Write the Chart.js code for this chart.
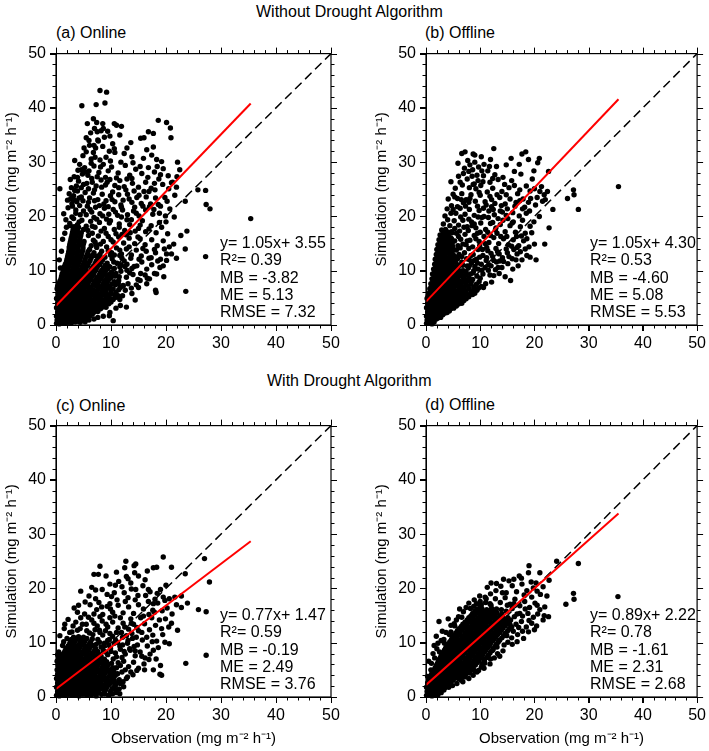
<!DOCTYPE html>
<html>
<head>
<meta charset="utf-8">
<script src="https://cdn.jsdelivr.net/npm/chart.js@4.4.1/dist/chart.umd.min.js"></script>
<style>
  body { margin: 0; background: #fff; width: 709px; height: 751px; position: relative; overflow: hidden;
         font-family: "Liberation Sans", Arial, Helvetica, sans-serif; color: #000; }
  .hdr { position: absolute; font-size: 16px; line-height: 18px; white-space: nowrap; }
  canvas { position: absolute; }
</style>
</head>
<body>
<div class="hdr" style="left:256px; top:3px">Without Drought Algorithm</div>
<div class="hdr" style="left:267px; top:372px">With Drought Algorithm</div>
<div class="hdr" style="left:56px; top:24px">(a) Online</div>
<div class="hdr" style="left:425px; top:24px">(b) Offline</div>
<div class="hdr" style="left:56px; top:397px">(c) Online</div>
<div class="hdr" style="left:425px; top:396px">(d) Offline</div>

<canvas id="panelA" width="345" height="325" style="left:0px; top:40px"></canvas>
<canvas id="panelB" width="339" height="325" style="left:370px; top:40px"></canvas>
<canvas id="panelC" width="345" height="339" style="left:0px; top:412px"></canvas>
<canvas id="panelD" width="339" height="339" style="left:370px; top:412px"></canvas>

<script>
// axis range and tick spacing (mg m-2 h-1)
const axisRange = [0, 50];
const majorStep = 10;
const minorStep = 2;

// 1:1 reference line
const oneToOne = [[0, 0], [50, 50]];

// regression lines, end points
const fitA = [[0, 3.55], [35.4, 40.8]];
const fitB = [[0, 4.30], [35.5, 41.6]];
const fitC = [[0, 1.47], [35.4, 28.7]];
const fitD = [[0, 2.22], [35.5, 33.8]];

// statistics boxes
const statsA = ['y= 1.05x+ 3.55', 'R\u00b2= 0.39', 'MB = -3.82', 'ME = 5.13', 'RMSE = 7.32'];
const statsB = ['y= 1.05x+ 4.30', 'R\u00b2= 0.53', 'MB = -4.60', 'ME = 5.08', 'RMSE = 5.53'];
const statsC = ['y= 0.77x+ 1.47', 'R\u00b2= 0.59', 'MB = -0.19', 'ME = 2.49', 'RMSE = 3.76'];
const statsD = ['y= 0.89x+ 2.22', 'R\u00b2= 0.78', 'MB = -1.61', 'ME = 2.31', 'RMSE = 2.68'];

// (a) online, without drought algorithm: [observation, simulation]
const pointsA = [
  [0.1,0.3],[0.6,0.2],[1.1,0.4],[1.6,0.3],[2.2,0.5],[2.8,0.4],[3.5,0.6],
  [0.2,0.9],[0.7,1.0],[1.3,0.8],[1.9,1.1],[2.5,0.9],[3.1,1.2],[3.8,1.0],[4.5,1.3],[5.2,1.2],
  [0.1,1.6],[0.6,1.7],[1.2,1.5],[1.8,1.8],[2.4,1.6],[3.0,1.9],[3.7,1.7],[4.4,2.0],[5.1,1.8],[5.9,2.1],[6.6,2.0],
  [0.3,2.4],[0.9,2.5],[1.5,2.3],[2.1,2.6],[2.8,2.4],[3.5,2.7],[4.2,2.5],[4.9,2.8],[5.7,2.6],[6.5,2.9],[7.3,2.7],[8.1,3.0],
  [0.1,3.2],[0.7,3.3],[1.3,3.1],[2.0,3.4],[2.7,3.2],[3.4,3.5],[4.1,3.3],[4.9,3.6],[5.6,3.4],[6.4,3.7],[7.2,3.5],[8.0,3.8],[8.9,3.6],[9.6,3.9],
  [0.3,4.0],[0.9,4.1],[1.6,3.9],[2.3,4.2],[3.0,4.0],[3.8,4.3],[4.6,4.1],[5.4,4.4],[6.2,4.2],[7.0,4.5],[7.8,4.3],[8.7,4.6],[9.5,4.4],[10.4,4.7],
  [0.1,4.9],[0.8,5.0],[1.5,4.8],[2.2,5.1],[3.0,4.9],[3.7,5.2],[4.5,5.0],[5.3,5.3],[6.1,5.1],[7.0,5.4],[7.8,5.2],[8.6,5.5],[9.5,5.3],[10.6,5.6],[11.3,5.4],
  [0.4,5.8],[1.1,5.9],[1.8,5.7],[2.6,6.0],[3.3,5.8],[4.1,6.1],[4.9,5.9],[5.8,6.2],[6.6,6.0],[7.4,6.3],[8.3,6.1],[9.1,6.4],[10.0,6.2],[11.4,6.5],
  [0.2,6.7],[0.9,6.8],[1.6,6.6],[2.4,6.9],[3.1,6.7],[3.9,7.0],[4.7,6.8],[5.5,7.1],[6.4,6.9],[7.3,7.2],[8.1,7.0],[9.0,7.3],[9.8,7.1],[10.8,7.4],[12.2,7.2],
  [0.5,7.6],[1.3,7.7],[2.0,7.5],[2.8,7.8],[3.6,7.6],[4.4,7.9],[5.2,7.7],[6.0,8.0],[6.9,7.8],[7.8,8.1],[8.7,7.9],[9.5,8.2],[10.6,8.0],
  [0.9,8.5],[1.7,8.6],[2.4,8.4],[3.2,8.7],[4.0,8.5],[4.8,8.8],[5.6,8.6],[6.5,8.9],[7.4,8.7],[8.4,9.0],[9.3,8.8],[10.3,9.1],[11.5,8.9],
  [1.1,9.4],[1.9,9.5],[2.7,9.3],[3.5,9.6],[4.3,9.4],[5.2,9.7],[6.1,9.5],[7.0,9.8],[8.0,9.6],[9.0,9.9],[10.1,9.7],
  [1.4,10.3],[2.2,10.4],[3.0,10.2],[3.8,10.5],[4.6,10.3],[5.5,10.6],[6.5,10.4],[7.5,10.7],[8.6,10.5],[9.6,10.8],
  [1.7,11.2],[2.5,11.3],[3.3,11.1],[4.1,11.4],[5.0,11.2],[6.0,11.5],[7.1,11.3],[8.2,11.6],[9.3,11.4],
  [2.0,12.1],[2.8,12.2],[3.6,12.0],[4.4,12.3],[5.3,12.1],[6.4,12.4],[7.6,12.2],[8.9,12.5],
  [2.2,13.0],[3.0,13.1],[3.8,12.9],[4.7,13.2],[5.7,13.0],[6.9,13.3],
  [2.4,13.9],[3.2,14.0],[4.0,13.8],[4.9,14.1],[6.1,13.9],
  [2.5,14.8],[3.3,14.9],[4.1,14.7],[5.0,15.0],
  [2.7,15.7],[3.5,15.8],[4.3,15.6],[2.9,16.6],[3.7,16.7],[4.5,16.5],[3.1,17.5],[3.9,17.6],
  [8.0,43.2],[9.2,42.9],[4.7,40.4],[7.3,40.6],[8.9,40.9],
  [5.7,37.1],[7.4,37.3],[8.5,37.1],[10.6,37.1],[11.0,36.8],[11.9,36.6],[18.6,37.7],[20.1,37.3],[20.8,36.3],
  [16.8,35.6],[17.7,35.3],[16.0,34.5],[15.4,34.4],[20.9,34.5],[7.0,36.2],[6.3,35.4],[8.2,35.8],[9.4,35.7],
  [5.5,34.5],[7.6,34.1],[8.8,34.6],[11.6,35.0],[13.6,33.6],[17.7,32.8],[6.1,33.1],[7.2,32.6],[8.5,32.9],
  [10.3,33.4],[4.9,31.2],[5.5,31.9],[6.8,31.8],[9.1,30.9],[11.8,30.0],[13.8,31.0],[15.9,30.7],[17.4,31.3],
  [18.3,30.5],[19.2,30.1],[12.4,31.6],[8.0,30.4],[3.4,30.3],[4.3,29.6],
  [5.2,29.0],[6.0,28.4],[6.9,29.3],[7.8,28.1],[8.6,29.6],[9.5,28.4],[10.1,29.1],[11.3,28.0],[12.6,29.4],
  [13.4,27.6],[14.5,28.7],[15.6,27.9],[16.8,29.0],[17.9,28.2],[18.7,26.9],[19.5,28.8],[20.4,27.5],[21.2,26.3],
  [22.1,30.0],[22.5,28.6],[22.0,27.3],[21.0,26.2],[3.3,27.3],[4.1,26.5],[4.8,27.8],[5.6,26.1],[6.5,27.0],
  [7.3,25.6],[8.2,26.7],[9.0,25.8],[9.8,26.8],[10.7,25.7],[11.6,26.6],[12.4,25.5],[13.9,26.1],[15.0,25.4],
  [16.3,26.3],[17.3,25.2],[19.4,25.9],[2.8,25.3],[0.7,25.1],
  [2.4,24.2],[3.2,23.8],[3.9,24.7],[4.6,23.6],[5.3,24.4],[6.1,23.4],[6.8,24.3],[7.6,23.1],[8.4,24.1],
  [9.1,22.9],[9.9,23.8],[10.7,22.7],[11.4,24.0],[12.2,23.0],[13.0,24.1],[13.8,22.6],[14.7,23.5],[15.5,22.4],
  [16.4,23.6],[17.2,22.3],[18.1,23.4],[19.0,21.9],[20.2,22.8],[21.6,23.9],[23.5,22.8],[25.8,24.9],[27.2,24.8],
  [27.3,22.2],[28.0,21.4],[2.2,21.6],[2.9,22.4],[3.6,21.2],[4.3,22.0],[5.0,21.0],[5.7,21.9],[6.5,20.8],
  [7.2,21.7],[8.0,20.5],[8.8,21.5],[9.6,20.4],[10.4,21.3],[11.2,20.2],[12.1,21.2],[13.0,20.3],[14.1,21.0],
  [15.1,20.1],[16.3,21.2],[17.6,20.4],[18.8,20.6],[19.9,20.1],[20.7,21.4],
  [1.8,19.4],[2.5,18.7],[3.2,19.6],[3.9,18.5],[4.7,19.3],[5.5,18.2],[6.3,19.1],[7.1,18.0],[7.9,18.9],
  [8.8,17.8],[9.7,18.8],[10.6,17.6],[11.5,18.6],[12.5,17.4],[13.4,18.5],[14.4,17.3],[15.3,18.4],[16.3,17.2],
  [17.3,18.3],[18.2,17.0],[19.2,18.0],[20.3,16.8],[22.7,16.5],[23.8,17.3],[35.4,19.6],[1.6,16.9],[5.9,16.5],
  [6.8,15.6],[7.7,16.4],[8.6,15.4],[9.5,16.3],[10.4,15.3],[11.4,16.2],[12.3,15.1],[13.3,16.0],[14.3,15.0],
  [15.3,15.9],[16.2,14.8],[17.4,15.7],[18.4,14.6],[19.5,15.5],[20.6,14.4],[21.4,14.9],
  [7.4,14.3],[8.3,13.6],[9.2,14.4],[10.1,13.3],[11.0,14.2],[11.9,13.1],[12.8,14.0],[13.7,12.9],[14.6,13.8],
  [15.5,12.7],[16.4,13.6],[17.3,12.4],[18.1,13.3],[19.0,12.1],[20.1,13.1],[21.0,13.1],[21.9,12.3],[23.5,14.0],
  [27.2,12.6],[10.2,12.2],[11.1,11.4],[12.0,12.3],[12.9,11.2],[13.8,10.4],[14.7,10.9],[15.6,11.6],[16.5,10.3],
  [17.4,11.1],[18.9,10.6],[20.1,11.9],[10.6,10.4],[11.8,9.9],
  [11.3,7.6],[12.8,8.8],[14.0,9.3],[15.3,8.2],[16.5,7.6],[18.3,9.4],[12.6,6.4],[13.8,5.8],[15.0,6.9],
  [18.1,6.4],[11.0,5.2],[12.8,3.3],[10.4,0.8],[18.2,6.0],[23.6,6.2],[17.0,8.5],[19.6,8.9],[14.4,4.6],
  [9.8,2.3],[11.7,3.6]
];
const extraA = [
  [0.35,0.6],[0.9,0.65],[1.4,0.55],[1.95,0.7],[2.5,0.6],[3.2,0.75],[4.0,0.7],[4.8,0.8],
  [0.4,1.3],[1.0,1.2],[1.6,1.35],[2.2,1.25],[2.8,1.4],[3.4,1.3],[4.1,1.45],[4.8,1.5],[5.6,1.5],[6.2,1.7],
  [0.35,2.0],[0.9,2.1],[1.5,1.95],[2.1,2.15],[2.7,2.0],[3.35,2.25],[4.0,2.1],[4.7,2.35],[5.4,2.2],[6.2,2.45],[6.9,2.35],[7.6,2.5],
  [0.5,2.8],[1.1,2.9],[1.7,2.75],[2.4,3.0],[3.1,2.85],[3.8,3.05],[4.5,2.9],[5.3,3.15],[6.0,3.0],[6.8,3.25],[7.6,3.1],[8.5,3.3],[9.1,3.25],
  [0.4,3.6],[1.0,3.7],[1.7,3.55],[2.4,3.8],[3.1,3.6],[3.8,3.85],[4.5,3.7],[5.3,3.95],[6.0,3.8],[6.8,4.05],[7.6,3.9],[8.4,4.15],[9.2,4.0],[10.0,4.25],
  [0.5,4.45],[1.2,4.55],[1.9,4.4],[2.6,4.65],[3.4,4.5],[4.2,4.75],[5.0,4.55],[5.8,4.8],[6.6,4.65],[7.4,4.9],[8.2,4.75],[9.1,5.0],[10.0,4.85],[10.9,5.1],
  [0.4,5.35],[1.1,5.45],[1.8,5.3],[2.6,5.55],[3.4,5.4],[4.1,5.6],[4.9,5.45],[5.7,5.7],[6.5,5.55],[7.4,5.8],[8.2,5.65],[9.0,5.9],[9.9,5.75],[10.9,6.0],
  [0.6,6.25],[1.3,6.35],[2.0,6.2],[2.8,6.45],[3.5,6.3],[4.3,6.5],[5.1,6.35],[6.0,6.6],[6.8,6.45],[7.7,6.7],[8.6,6.55],[9.5,6.8],[10.4,6.65],[11.7,6.9],
  [0.3,7.15],[1.1,7.25],[1.8,7.1],[2.6,7.35],[3.4,7.2],[4.2,7.4],[5.0,7.25],[5.8,7.5],[6.7,7.35],[7.6,7.6],[8.5,7.45],[9.3,7.7],[10.2,7.55],[11.3,7.8],
  [0.7,8.05],[1.5,8.15],[2.2,8.0],[3.0,8.25],[3.8,8.1],[4.6,8.3],[5.4,8.15],[6.3,8.4],[7.2,8.25],[8.1,8.5],[9.0,8.35],[9.9,8.6],
  [1.0,8.95],[1.8,9.05],[2.6,8.9],[3.4,9.15],[4.2,9.0],[5.0,9.2],[5.9,9.05],[6.8,9.3],[7.8,9.15],[8.8,9.4],[9.7,9.25],
  [1.3,9.85],[2.1,9.95],[2.9,9.8],[3.7,10.05],[4.5,9.9],[5.4,10.1],[6.3,9.95],[7.3,10.2],[8.3,10.05],[9.4,10.3],
  [1.5,10.75],[2.4,10.85],[3.2,10.7],[4.0,10.95],[4.8,10.8],[5.8,11.0],[6.8,10.85],[7.9,11.1],[8.9,10.95],
  [1.9,11.65],[2.7,11.75],[3.5,11.6],[4.3,11.85],[5.2,11.7],[6.2,11.9],[7.3,11.75],[8.5,12.0],
  [2.1,12.55],[2.9,12.65],[3.7,12.5],[4.6,12.75],[5.5,12.6],[6.6,12.8],[7.8,12.7],
  [2.3,13.45],[3.1,13.55],[3.9,13.4],[4.8,13.65],[5.8,13.5],[2.4,14.35],[3.2,14.45],[4.0,14.3],[4.9,14.55],
  [2.6,15.25],[3.4,15.35],[4.2,15.2],[5.1,15.4],[2.8,16.15],[3.6,16.25],[4.4,16.1],
  [3.0,17.05],[3.8,17.15],[4.6,17.0],[3.3,18.1],[4.1,18.0],[2.6,18.3],
  [5.9,12.8],[7.3,14.8],[9.9,12.9],[6.6,16.9],[8.2,17.3],[10.9,16.8],[12.8,16.6],[14.9,16.2],[4.4,20.3],
  [6.9,19.8],[9.2,19.5],[11.9,19.9],[13.7,19.4],[15.7,19.2],[3.4,23.0],[5.9,22.6],[8.7,22.3],[11.8,22.1],
  [14.3,21.7],[17.8,21.3],[4.6,25.3],[7.0,24.9],[10.3,24.5],[12.9,26.9],[16.9,24.6],[5.3,28.2],[9.0,27.2],
  [14.0,29.9],[18.4,29.2],[6.4,30.6],[10.7,31.8],[7.7,33.9],[9.7,32.0],[12.9,32.6],[16.5,32.3],[6.8,38.0],
  [4.0,28.5],[2.6,26.8],[3.7,25.6],[2.1,23.0],[1.4,20.5],[1.9,18.0],[1.2,15.8],[1.0,13.6],[0.6,12.0],
  [0.8,10.5],[11.6,13.8],[13.3,14.4],[15.8,14.1],[17.9,13.9],[19.7,14.0],[12.5,10.8],[13.4,9.6],[14.9,8.4],
  [16.2,9.2],[10.9,9.5],[11.6,10.7]
];
const cloudA = [
  [2.9,19.9],[3.6,20.6],[4.2,19.0],[5.0,17.6],[5.8,17.4],[6.6,18.2],[7.4,19.5],[3.0,21.9],[3.8,22.7],
  [4.9,22.9],[5.5,20.3],[6.2,21.3],[7.0,22.9],[7.9,22.0],[2.7,23.3],[3.4,24.8],[4.2,23.4],[5.0,25.9],
  [5.9,25.1],[6.6,26.3],[7.5,27.3],[8.3,25.4],[3.9,27.2],[4.6,28.6],[5.8,27.6],[6.4,29.8],[7.1,30.9],
  [8.1,29.1],[9.3,26.3],[5.1,32.6],[6.0,34.0],[6.9,33.1],[7.5,35.6],[8.6,36.2],[9.8,34.8],[10.6,32.5],
  [9.9,30.2],[11.0,27.1],[10.2,23.1],[9.5,21.8],[8.5,20.1],[9.9,19.2],[10.8,20.8],[11.9,21.7],[12.7,24.9],
  [11.4,25.3],[13.3,23.2],[14.2,24.7],[15.1,23.9],[13.8,27.0],[15.3,29.2],[16.7,27.2],[17.9,26.1],[16.0,24.6],
  [18.0,24.9],[19.0,27.7],[20.5,25.1],[21.9,25.4],[19.8,23.5],[18.6,22.2],[17.0,21.8],[15.8,21.9],[14.6,20.6],
  [12.9,19.4],[11.5,18.0],[13.5,17.0],[15.0,17.8],[16.9,17.7],[18.8,18.9],[20.0,19.0],[21.5,19.9],[12.0,16.7],
  [10.0,15.7],[9.1,16.9],[8.1,14.9],[7.1,15.3],[6.4,14.6],[7.0,12.8],[8.0,13.0],[9.5,13.7],[10.6,12.9],
  [11.6,12.8],[12.4,11.8],[13.6,12.3],[15.1,12.1],[16.9,12.3],[18.5,11.8],[19.5,10.9],[17.9,9.5],[16.6,8.6],
  [15.4,9.5],[14.2,10.8],[12.9,10.1],[11.8,11.1],[10.5,11.6],[9.8,10.7],[10.7,9.0],[11.4,8.2],[12.2,7.3],
  [13.1,7.6],[14.6,7.4],[13.7,6.8],[12.1,5.4],[11.6,4.7],[10.9,3.1],[9.7,1.7],[8.6,1.6],[7.6,1.4],
  [6.9,1.1],[6.0,0.9],[5.3,0.6],[4.4,0.5]
];

// (b) offline, without drought algorithm
const pointsB = [
  [0.1,0.3],[0.6,0.4],[1.1,0.2],[0.2,0.9],[0.7,1.0],[1.3,0.8],[1.9,1.1],
  [0.1,1.6],[0.6,1.7],[1.2,1.5],[1.8,1.8],[2.5,1.6],[3.1,1.9],
  [0.3,2.4],[0.9,2.5],[1.5,2.3],[2.1,2.6],[2.8,2.4],[3.5,2.7],[4.3,2.6],
  [0.1,3.2],[0.7,3.3],[1.3,3.1],[2.0,3.4],[2.7,3.2],[3.4,3.5],[4.1,3.3],[4.9,3.6],[5.6,3.5],
  [0.3,4.0],[0.9,4.1],[1.6,3.9],[2.3,4.2],[3.0,4.0],[3.8,4.3],[4.6,4.1],[5.4,4.4],[6.2,4.2],[7.0,4.5],
  [0.2,4.9],[0.8,5.0],[1.5,4.8],[2.2,5.1],[3.0,4.9],[3.7,5.2],[4.5,5.0],[5.3,5.3],[6.1,5.1],[7.0,5.4],[7.9,5.2],[8.6,5.6],
  [0.5,5.8],[1.1,5.9],[1.8,5.7],[2.6,6.0],[3.3,5.8],[4.1,6.1],[4.9,5.9],[5.8,6.2],[6.6,6.0],[7.4,6.3],[8.3,6.1],[9.4,6.4],
  [0.7,6.7],[1.4,6.8],[2.1,6.6],[2.9,6.9],[3.6,6.7],[4.4,7.0],[5.2,6.8],[6.0,7.1],[6.9,6.9],[7.8,7.2],[8.8,7.0],[10.2,7.1],
  [0.9,7.6],[1.6,7.7],[2.4,7.5],[3.1,7.8],[3.9,7.6],[4.7,7.9],[5.6,7.7],[6.4,8.0],[7.3,7.8],[8.4,8.1],
  [1.1,8.5],[1.8,8.6],[2.6,8.4],[3.3,8.7],[4.1,8.5],[4.9,8.8],[5.8,8.6],[6.8,8.9],[7.9,8.7],
  [1.2,9.4],[2.0,9.5],[2.8,9.3],[3.5,9.6],[4.3,9.4],[5.1,9.7],[6.1,9.5],
  [1.4,10.3],[2.2,10.4],[2.9,10.2],[3.7,10.5],[4.5,10.3],[5.4,10.6],
  [1.6,11.2],[2.3,11.3],[3.1,11.1],[3.8,11.4],[4.6,11.2],[5.5,11.5],
  [1.7,12.1],[2.5,12.2],[3.2,12.0],[4.0,12.3],[4.8,12.1],
  [1.9,13.0],[2.6,13.1],[3.4,12.9],[4.2,13.2],[5.0,13.0],
  [2.0,13.9],[2.8,14.0],[3.5,13.8],[4.3,14.1],[5.1,13.9],
  [2.2,14.8],[2.9,14.9],[3.7,14.7],[4.5,15.0],[2.4,15.7],[3.1,15.8],[3.9,15.6],[4.7,15.9],
  [2.6,16.6],[3.3,16.7],[4.1,16.5],[2.9,17.5],[3.6,17.6],
  [3.2,18.6],[4.0,19.4],[4.4,18.3],[3.5,20.1],[4.6,20.6],
  [7.2,31.9],[6.6,31.6],[12.5,32.5],[18.4,31.9],[17.7,31.5],[9.0,31.3],[10.2,31.0],[20.9,30.7],[20.6,29.9],
  [15.7,30.7],[14.8,29.5],[13.0,29.2],[9.0,30.0],[8.1,29.5],[22.6,28.3],[4.6,26.4],[7.1,28.9],[8.6,28.6],
  [9.7,29.1],[11.4,28.4],[16.3,28.3],[17.5,27.8],[19.9,28.4],[6.0,27.4],[7.6,26.9],[8.5,27.4],[9.6,26.6],
  [10.6,27.5],[11.8,26.3],[13.3,26.8],[14.5,25.9],[15.8,26.6],[5.4,25.2],[6.7,25.8],[8.0,25.3],[9.2,25.1],
  [10.1,25.7],[12.3,25.2],[18.5,25.6],[19.2,24.7],[20.0,25.1],[21.0,24.6],[22.4,24.6],[21.8,24.0],
  [27.2,24.9],[27.3,24.0],[26.1,23.3],[28.1,21.3],[23.4,21.3],[35.5,25.5],[4.1,23.2],[5.0,24.1],[5.8,23.3],
  [6.6,24.2],[7.4,23.1],[8.3,24.0],[9.1,22.8],[10.0,23.9],[10.9,22.7],[11.8,23.7],[12.7,22.4],[13.6,23.5],
  [14.6,22.3],[15.5,23.2],[16.4,21.9],[17.3,22.9],[18.2,21.7],[19.3,23.3],[20.2,22.1],[21.5,22.8],[20.9,20.0],
  [3.9,21.4],[4.7,22.0],[5.5,20.6],[6.3,21.5],[7.2,20.4],[8.0,21.3],[8.9,20.2],[9.8,21.1],[10.7,20.0],
  [11.6,21.0],[12.6,20.3],[13.7,21.0],[14.8,20.2],[16.0,20.7],[17.2,20.1],[18.5,20.6],
  [5.2,19.2],[6.0,18.4],[6.8,19.3],[7.6,18.1],[8.4,19.0],[9.2,17.9],[10.1,18.8],[11.0,17.6],[11.9,18.7],
  [12.8,17.5],[13.7,18.5],[14.6,17.2],[15.5,18.3],[16.5,17.1],[17.4,18.1],[18.3,16.9],[19.2,18.2],[22.7,17.9],
  [5.6,16.9],[6.4,15.8],[7.2,16.7],[8.1,15.6],[8.9,16.5],[9.8,15.4],[10.7,16.3],[11.6,15.2],[12.5,16.1],
  [13.4,15.0],[14.3,15.9],[15.2,14.8],[16.1,15.7],[17.1,14.6],[18.0,15.5],[19.0,14.4],[20.0,14.9],[21.9,14.9],
  [6.3,14.2],[7.1,13.3],[7.9,14.1],[8.7,13.0],[9.6,13.9],[10.5,12.8],[11.4,13.7],[12.3,12.6],[13.2,13.5],
  [14.1,12.4],[15.0,13.3],[15.9,12.2],[16.8,13.1],[17.7,12.0],[18.6,12.8],[19.2,12.5],[20.3,12.0],[6.6,11.6],
  [7.5,12.2],[8.4,11.4],[9.3,12.1],[10.2,11.2],[11.1,11.9],[12.0,10.9],[13.0,11.6],[14.0,10.6],[15.1,11.3],
  [16.0,10.3],[17.0,10.9],[6.9,10.0],[7.8,10.5],[8.7,9.6],[9.6,10.3],[10.5,9.4],[11.5,10.1],[12.5,9.1],
  [13.5,9.5],[14.6,8.9],[15.6,8.2],[8.6,8.4],[9.8,8.0],[11.0,7.6],[12.1,7.9],[10.6,6.9]
];
const extraB = [
  [0.35,0.6],[0.9,0.65],[1.5,0.55],[0.4,1.3],[1.0,1.2],[1.6,1.35],[2.2,1.3],[2.7,1.4],
  [0.35,2.0],[0.9,2.1],[1.5,1.95],[2.1,2.15],[2.8,2.0],[3.5,2.2],[3.9,2.3],
  [0.5,2.8],[1.1,2.9],[1.7,2.75],[2.4,3.0],[3.1,2.85],[3.8,3.05],[4.5,2.95],[5.1,3.1],
  [0.4,3.6],[1.0,3.7],[1.7,3.55],[2.4,3.8],[3.1,3.6],[3.8,3.85],[4.5,3.7],[5.3,3.95],[6.0,3.85],[6.6,4.0],
  [0.5,4.45],[1.2,4.55],[1.9,4.4],[2.6,4.65],[3.4,4.5],[4.2,4.75],[5.0,4.55],[5.8,4.8],[6.6,4.7],[7.4,4.85],
  [0.4,5.35],[1.1,5.45],[1.8,5.3],[2.6,5.55],[3.4,5.4],[4.1,5.6],[4.9,5.45],[5.7,5.7],[6.5,5.55],[7.4,5.8],[8.2,5.7],[9.0,5.85],
  [0.8,6.25],[1.5,6.35],[2.2,6.2],[2.9,6.45],[3.7,6.3],[4.5,6.5],[5.3,6.35],[6.2,6.6],[7.0,6.45],[7.9,6.7],[8.8,6.55],[9.7,6.8],
  [1.0,7.15],[1.8,7.25],[2.5,7.1],[3.3,7.35],[4.0,7.2],[4.8,7.4],[5.6,7.25],[6.5,7.5],[7.4,7.35],[8.3,7.6],[9.3,7.5],
  [1.3,8.05],[2.0,8.15],[2.8,8.0],[3.6,8.25],[4.4,8.1],[5.2,8.3],[6.1,8.15],[7.0,8.4],[7.8,8.3],
  [1.5,8.95],[2.3,9.05],[3.0,8.9],[3.8,9.15],[4.6,9.0],[5.5,9.2],[6.4,9.05],[7.3,9.3],
  [1.6,9.85],[2.4,9.95],[3.2,9.8],[4.0,10.05],[4.8,9.9],[5.7,10.1],[6.6,9.95],
  [1.8,10.75],[2.6,10.85],[3.4,10.7],[4.2,10.95],[5.0,10.8],[5.9,11.0],
  [2.0,11.65],[2.8,11.75],[3.5,11.6],[4.3,11.85],[5.1,11.7],[2.1,12.55],[2.9,12.65],[3.7,12.5],[4.5,12.75],[5.4,12.6],
  [2.3,13.45],[3.1,13.55],[3.9,13.4],[4.7,13.65],[2.5,14.35],[3.3,14.45],[4.1,14.3],[4.9,14.55],
  [2.7,15.25],[3.5,15.35],[4.3,15.2],[5.0,15.4],[2.9,16.15],[3.7,16.25],[4.5,16.1],[3.2,17.05],[4.0,17.15],[4.8,17.0],
  [5.9,10.5],[6.6,12.6],[7.2,9.1],[8.0,10.9],[8.9,11.9],[9.4,9.0],[10.9,10.6],[7.4,14.8],[8.3,12.8],
  [9.9,14.6],[11.2,14.3],[12.9,14.1],[6.0,16.3],[7.8,17.4],[9.5,16.9],[11.4,17.1],[13.1,16.9],[14.9,16.3],
  [16.7,16.3],[6.4,19.9],[8.5,18.3],[10.3,19.8],[12.3,18.9],[14.2,19.3],[16.1,19.0],[5.0,21.3],[6.9,22.5],
  [9.5,21.9],[12.1,21.8],[15.0,21.4],[17.8,21.4],[5.3,23.6],[7.9,22.6],[11.3,24.5],[14.0,24.6],[16.9,24.2],
  [6.3,26.3],[8.9,26.0],[12.7,27.7],[7.7,30.3],[10.7,29.6],[8.7,31.5],[11.9,30.5],[5.9,29.8],[16.6,22.6],
  [18.9,22.6],[13.6,11.8],[15.3,12.6],[16.8,14.3],[18.3,14.0],[12.8,10.2],[10.0,8.6],[11.8,9.2]
];
const cloudB = [
  [5.4,8.0],[6.0,9.9],[6.8,11.0],[7.4,9.8],[8.2,9.4],[7.0,8.6],[8.0,12.0],[9.0,10.8],[9.9,12.5],
  [10.4,13.9],[11.2,12.4],[12.0,13.2],[6.1,13.0],[5.9,14.6],[6.8,14.9],[7.6,15.5],[8.6,14.4],[9.2,15.9],
  [10.0,17.1],[10.9,15.0],[11.9,16.5],[12.9,17.9],[13.8,16.3],[14.8,14.0],[15.8,14.5],[16.6,12.0],[17.6,16.4],
  [5.3,17.8],[6.2,17.3],[7.0,18.0],[7.9,19.5],[8.9,18.6],[9.6,19.9],[10.6,21.5],[11.5,19.8],[12.4,21.3],
  [13.3,19.6],[14.1,20.8],[15.1,19.6],[15.9,18.8],[5.8,21.8],[6.5,23.1],[7.3,21.9],[8.1,23.3],[8.7,25.9],
  [9.8,24.4],[10.5,26.4],[11.1,22.1],[12.1,23.1],[13.1,24.0],[13.9,22.0],[14.8,24.0],[15.3,25.3],[16.3,25.7],
  [17.3,24.9],[17.9,23.2],[19.1,21.0],[19.9,19.0],[6.9,27.9],[7.9,28.3],[9.4,27.6],[10.3,28.4],[11.7,29.2],
  [12.3,27.0],[14.2,27.2],[17.2,29.6],[18.9,30.5],[19.6,26.9],[21.3,25.5],[20.5,23.5],[22.0,23.1],[4.7,17.2],
  [5.3,15.5],[5.6,13.8],[5.8,12.2],[6.2,11.0],[6.4,9.5],[7.6,10.9],[8.8,10.0],[9.5,11.4],[10.3,10.1],
  [11.6,11.1],[12.5,11.9],[13.3,10.6],[14.3,11.7],[13.5,13.1],[16.2,13.9],[17.4,13.5],[18.6,15.9],[19.5,17.0],
  [17.8,19.3]
];

// (c) online, with drought algorithm
const pointsC = [
  [0.1,0.3],[0.6,0.2],[1.1,0.4],[1.7,0.3],[2.3,0.5],[2.9,0.3],[3.5,0.4],[4.2,0.2],[4.9,0.5],[5.6,0.3],[6.4,0.4],[7.3,0.2],[8.3,0.5],[9.6,0.3],
  [0.3,1.0],[0.9,1.1],[1.5,0.9],[2.1,1.2],[2.7,1.0],[3.3,1.1],[4.0,0.9],[4.7,1.2],[5.4,1.0],[6.1,1.1],[6.9,0.9],[7.8,1.2],[8.8,1.0],[10.0,1.1],
  [0.1,1.8],[0.7,1.9],[1.3,1.7],[1.9,2.0],[2.5,1.8],[3.1,1.9],[3.8,1.7],[4.5,2.0],[5.2,1.8],[5.9,1.9],[6.7,1.7],[7.5,2.0],[8.4,1.8],[9.3,1.9],[10.5,1.7],
  [0.3,2.6],[0.9,2.7],[1.6,2.5],[2.2,2.8],[2.9,2.6],[3.6,2.7],[4.3,2.5],[5.0,2.8],[5.8,2.6],[6.6,2.7],[7.4,2.5],[8.2,2.8],[9.1,2.6],[10.1,2.7],[11.0,2.5],
  [0.1,3.4],[0.8,3.5],[1.4,3.3],[2.1,3.6],[2.8,3.4],[3.5,3.5],[4.2,3.3],[5.0,3.6],[5.8,3.4],[6.6,3.5],[7.4,3.3],[8.3,3.6],[9.2,3.4],[10.3,3.5],
  [0.3,4.2],[1.0,4.3],[1.7,4.1],[2.4,4.4],[3.1,4.2],[3.9,4.3],[4.7,4.1],[5.5,4.4],[6.3,4.2],[7.1,4.3],[8.0,4.1],[8.9,4.4],[9.9,4.2],[11.2,4.3],
  [0.2,5.0],[0.9,5.1],[1.6,4.9],[2.3,5.2],[3.1,5.0],[3.8,5.1],[4.6,4.9],[5.4,5.2],[6.2,5.0],[7.1,5.1],[8.0,4.9],[8.9,5.2],[9.8,5.0],
  [0.4,5.8],[1.1,5.9],[1.9,5.7],[2.6,6.0],[3.4,5.8],[4.2,5.9],[5.0,5.7],[5.9,6.0],[6.7,5.8],[7.6,5.9],[8.5,5.7],[9.5,6.0],
  [0.2,6.6],[1.0,6.7],[1.7,6.5],[2.5,6.8],[3.3,6.6],[4.1,6.7],[4.9,6.5],[5.7,6.8],[6.6,6.6],[7.5,6.7],[8.4,6.5],
  [0.5,7.4],[1.3,7.5],[2.1,7.3],[2.9,7.6],[3.7,7.4],[4.5,7.5],[5.4,7.3],[6.3,7.6],[7.2,7.4],[8.2,7.5],
  [1.5,8.2],[2.3,8.3],[3.1,8.1],[3.9,8.4],[4.8,8.2],[5.7,8.3],[6.6,8.1],[7.6,8.4],
  [1.9,9.0],[2.7,9.1],[3.5,8.9],[4.4,9.2],[5.3,9.0],[6.2,9.1],[7.2,8.9],
  [2.5,9.8],[3.3,9.9],[4.2,9.7],[5.1,10.0],[6.1,9.8],[2.8,10.6],[3.7,10.7],[4.6,10.5],[5.6,10.8],
  [19.5,25.8],[12.7,25.0],[14.5,24.5],[14.2,24.2],[8.0,24.1],[17.7,23.8],[18.3,23.9],[21.0,23.9],[23.5,22.7],
  [27.0,25.5],[27.9,21.2],[6.9,22.6],[7.7,22.6],[11.0,23.0],[12.8,22.2],[15.0,22.3],[16.2,21.6],[13.6,21.0],
  [9.8,20.8],[11.4,21.3],[4.5,19.5],[6.5,20.2],[8.4,19.8],[10.6,19.2],[12.0,20.3],[14.5,19.8],[15.8,20.5],
  [17.1,19.4],[18.4,19.1],[20.0,20.6],[21.6,18.4],[19.5,18.4],[22.8,18.6],[10.1,18.5],[13.1,18.3],[7.2,18.1],
  [3.3,16.4],[5.2,15.3],[6.2,17.0],[7.4,16.1],[8.5,15.2],[9.3,16.7],[10.3,15.6],[11.3,16.9],[12.2,15.5],
  [13.2,16.6],[14.1,15.4],[15.0,17.0],[15.9,16.2],[16.8,17.6],[17.6,16.0],[18.5,17.3],[19.3,15.9],[20.2,16.4],
  [21.1,15.3],[22.8,16.5],[23.9,17.3],[25.9,16.1],[27.3,15.7],[2.2,14.3],[3.6,13.8],[4.5,14.6],[5.5,13.4],
  [6.5,14.2],[7.5,13.1],[8.4,14.0],[9.4,12.9],[10.3,13.8],[11.3,12.7],[12.2,13.6],[13.2,12.5],[14.1,13.4],
  [15.0,12.2],[16.1,13.5],[17.0,12.4],[18.1,13.2],[19.2,12.6],[20.5,12.9],[22.1,12.3],[1.5,12.6],[2.5,11.9],
  [0.7,11.3],
  [6.7,11.5],[7.6,10.6],[8.5,11.4],[9.4,10.4],[10.3,11.2],[11.2,10.1],[12.1,11.0],[13.0,9.9],[13.9,10.8],
  [14.8,9.6],[15.7,10.5],[16.6,9.4],[17.5,10.2],[18.6,9.1],[19.8,10.1],[20.6,9.8],[7.3,9.7],[8.2,9.2],
  [9.0,8.3],[9.9,9.0],[10.8,8.1],[11.7,8.8],[12.6,7.9],[13.5,8.6],[14.4,7.6],[15.3,8.3],[16.2,7.2],
  [17.1,7.9],[18.2,7.0],[19.0,5.8],[10.4,7.0],[11.3,6.3],[12.3,6.6],[13.2,5.6],[14.1,6.4],[15.0,5.3],
  [16.0,6.1],[17.7,5.0],[18.9,4.2],[19.2,4.0],[11.0,5.4],[12.0,4.6],[13.0,3.7],[14.0,4.1],[12.2,2.8],
  [11.5,1.5],[11.0,0.8],[9.6,0.3],[27.3,7.7],[23.6,6.2]
];
const extraC = [
  [0.35,0.65],[0.9,0.7],[1.4,0.6],[2.0,0.75],[2.6,0.65],[3.2,0.7],[3.8,0.6],[4.5,0.75],[5.2,0.65],[6.0,0.7],[6.8,0.6],[7.7,0.75],[8.8,0.65],[10.3,0.6],
  [0.6,1.4],[1.2,1.5],[1.8,1.35],[2.4,1.55],[3.0,1.4],[3.6,1.5],[4.3,1.35],[5.0,1.55],[5.7,1.4],[6.5,1.5],[7.3,1.35],[8.2,1.55],[9.1,1.4],[10.2,1.5],[11.0,1.3],
  [0.4,2.2],[1.0,2.3],[1.6,2.15],[2.2,2.35],[2.8,2.2],[3.4,2.3],[4.1,2.15],[4.8,2.35],[5.5,2.2],[6.3,2.3],[7.1,2.15],[7.9,2.35],[8.8,2.2],[9.7,2.3],[10.8,2.1],
  [0.6,3.0],[1.2,3.1],[1.9,2.95],[2.5,3.15],[3.2,3.0],[3.9,3.1],[4.6,2.95],[5.4,3.15],[6.2,3.0],[7.0,3.1],[7.8,2.95],[8.7,3.15],[9.6,3.0],[10.6,3.1],[11.5,3.2],
  [0.4,3.8],[1.1,3.9],[1.8,3.75],[2.4,3.95],[3.2,3.8],[3.9,3.9],[4.6,3.75],[5.4,3.95],[6.2,3.8],[7.0,3.9],[7.8,3.75],[8.7,3.95],[9.6,3.8],[10.7,3.9],
  [0.6,4.6],[1.3,4.7],[2.0,4.55],[2.7,4.75],[3.5,4.6],[4.3,4.7],[5.0,4.55],[5.8,4.75],[6.7,4.6],[7.5,4.7],[8.4,4.55],[9.4,4.75],[10.5,4.6],
  [0.5,5.4],[1.3,5.5],[2.0,5.35],[2.7,5.55],[3.5,5.4],[4.2,5.5],[5.0,5.35],[5.8,5.55],[6.6,5.4],[7.5,5.5],[8.4,5.35],[9.3,5.55],[10.3,5.4],
  [0.7,6.2],[1.5,6.3],[2.2,6.15],[3.0,6.35],[3.8,6.2],[4.6,6.3],[5.4,6.15],[6.3,6.35],[7.1,6.2],[8.0,6.3],[9.0,6.15],
  [0.6,7.0],[1.4,7.1],[2.1,6.95],[2.9,7.15],[3.7,7.0],[4.5,7.1],[5.3,6.95],[6.2,7.15],[7.0,7.0],[7.9,7.1],[8.8,6.95],
  [1.0,7.8],[1.7,7.9],[2.5,7.75],[3.3,7.95],[4.1,7.8],[5.0,7.9],[5.9,7.75],[6.8,7.95],[7.7,7.8],
  [1.7,8.6],[2.5,8.7],[3.3,8.55],[4.2,8.75],[5.1,8.6],[6.0,8.7],[7.0,8.55],
  [2.2,9.4],[3.0,9.5],[3.9,9.35],[4.8,9.55],[5.7,9.4],[6.7,9.5],[2.6,10.2],[3.5,10.3],[4.4,10.15],[5.3,10.35],[6.3,10.2],
  [3.2,11.0],[4.1,11.1],[5.0,11.0],
  [6.1,11.8],[7.1,12.4],[8.0,11.9],[9.0,12.2],[9.8,11.7],[11.0,11.9],[6.6,10.7],[7.9,10.1],[8.8,9.9],
  [9.6,9.6],[10.6,9.9],[11.6,9.4],[12.4,8.4],[13.1,10.4],[14.2,9.3],[8.6,8.6],[9.4,7.8],[10.0,8.4],
  [11.0,7.4],[12.0,7.3],[9.2,6.5],[10.1,6.2],[10.6,5.3],[11.7,5.8],[12.6,5.0],[10.2,3.6],[11.0,4.2],
  [4.4,12.6],[5.6,12.2],[6.9,15.3],[8.0,14.8],[9.8,14.6],[11.7,14.6],[13.6,14.4],[15.4,14.6],[17.4,14.6],
  [7.8,17.4],[9.8,17.2],[12.6,17.6],[14.4,17.9],[16.3,18.7],[18.0,18.0],[19.8,17.8],[3.9,15.6],[1.6,13.4],
  [1.2,9.5],[0.5,8.3],[0.3,7.8]
];
const cloudC = [
  [8.7,9.4],[9.7,10.6],[10.8,10.5],[11.9,11.9],[12.8,11.3],[13.8,11.7],[14.6,11.0],[15.6,11.9],[16.5,11.0],
  [17.6,11.4],[18.3,10.3],[19.4,11.5],[12.5,12.9],[13.7,13.6],[14.7,12.8],[15.9,14.9],[16.9,15.2],[17.9,15.6],
  [18.8,14.2],[19.9,14.4],[21.0,13.6],[10.7,14.9],[9.1,13.4],[7.9,12.3],[6.9,13.6],[5.9,14.7],[4.8,13.4],
  [3.9,12.3],[3.1,13.1],[2.9,12.0],[2.0,10.8],[1.4,10.2],[4.1,16.9],[5.3,17.5],[6.0,18.6],[8.3,16.6],
  [9.9,16.2],[11.1,17.9],[12.4,19.2],[13.7,19.9],[14.9,18.7],[16.8,19.8],[17.7,17.2],[19.0,19.8],[20.6,18.1],
  [21.9,17.0],[9.3,18.9],[10.8,20.6],[13.1,21.8],[14.3,22.9],[16.6,23.2],[12.5,23.8],[9.1,22.3],[7.2,19.7],
  [12.1,9.6],[13.4,8.9],[14.4,8.5],[15.6,7.5],[16.9,6.9],[17.7,8.6],[16.1,5.0],[14.7,4.9],[13.6,4.6],
  [12.8,3.4],[11.7,2.5],[10.7,2.2],[11.6,0.6],[12.3,1.9],[9.9,0.9],[8.9,0.6]
];

// (d) offline, with drought algorithm
const pointsD = [
  [0.1,0.3],[0.6,0.4],[1.1,0.2],[1.6,0.4],[0.2,1.0],[0.7,1.1],[1.2,0.9],[1.8,1.1],[2.4,1.0],
  [0.1,1.8],[0.6,1.9],[1.1,1.7],[1.7,1.9],[2.3,1.8],[2.9,1.9],[3.5,1.7],
  [0.3,2.6],[0.8,2.7],[1.4,2.5],[2.0,2.7],[2.6,2.6],[3.3,2.7],[4.0,2.5],[4.6,2.7],
  [0.6,3.4],[1.2,3.5],[1.8,3.3],[2.5,3.5],[3.2,3.4],[3.9,3.5],[4.6,3.3],[5.4,3.5],[6.0,3.4],
  [1.0,4.2],[1.6,4.3],[2.3,4.1],[3.0,4.3],[3.7,4.2],[4.4,4.3],[5.2,4.1],[5.9,4.3],[6.7,4.2],[7.4,4.3],
  [1.4,5.0],[2.1,5.1],[2.8,4.9],[3.5,5.1],[4.3,5.0],[5.0,5.1],[5.8,4.9],[6.6,5.1],[7.4,5.0],[8.3,5.1],
  [1.9,5.8],[2.6,5.9],[3.3,5.7],[4.1,5.9],[4.9,5.8],[5.7,5.9],[6.5,5.7],[7.3,5.9],[8.2,5.8],[9.1,5.9],
  [2.3,6.6],[3.0,6.7],[3.8,6.5],[4.6,6.7],[5.4,6.6],[6.2,6.7],[7.1,6.5],[7.9,6.7],[8.8,6.6],[9.8,6.7],[10.8,6.5],
  [2.7,7.4],[3.5,7.5],[4.3,7.3],[5.1,7.5],[5.9,7.4],[6.7,7.5],[7.6,7.3],[8.4,7.5],[9.3,7.4],[10.3,7.5],[11.2,7.3],
  [3.2,8.2],[4.0,8.3],[4.8,8.1],[5.6,8.3],[6.4,8.2],[7.2,8.3],[8.1,8.1],[9.0,8.3],[9.9,8.2],[10.8,8.3],[11.8,8.1],
  [3.6,9.0],[4.4,9.1],[5.2,8.9],[6.0,9.1],[6.9,9.0],[7.7,9.1],[8.6,8.9],[9.5,9.1],[10.4,9.0],[11.4,9.1],[12.4,8.9],
  [4.2,9.8],[5.0,9.9],[5.8,9.7],[6.6,9.9],[7.4,9.8],[8.3,9.9],[9.2,9.7],[10.1,9.9],[11.0,9.8],[11.9,9.9],[13.0,9.7],
  [4.7,10.6],[5.5,10.7],[6.3,10.5],[7.1,10.7],[8.0,10.6],[8.9,10.7],[9.8,10.5],[10.7,10.7],[11.6,10.6],[12.6,10.7],[13.6,10.5],
  [5.2,11.4],[6.0,11.5],[6.9,11.3],[7.7,11.5],[8.6,11.4],[9.5,11.5],[10.4,11.3],[11.3,11.5],[12.2,11.4],[13.2,11.5],[14.3,11.3],
  [5.8,12.2],[6.6,12.3],[7.5,12.1],[8.3,12.3],[9.2,12.2],[10.1,12.3],[11.0,12.1],[11.9,12.3],[12.9,12.2],[13.9,12.3],[15.0,12.1],
  [6.5,13.0],[7.3,13.1],[8.2,12.9],[9.0,13.1],[9.9,13.0],[10.8,13.1],[11.7,12.9],[12.6,13.1],[13.6,13.0],[14.6,13.1],[15.8,12.9],
  [7.2,13.8],[8.0,13.9],[8.9,13.7],[9.7,13.9],[10.6,13.8],[11.5,13.9],[12.4,13.7],[13.3,13.9],[14.3,13.8],[15.4,13.9],
  [7.9,14.6],[8.7,14.7],[9.6,14.5],[10.4,14.7],[11.3,14.6],[12.2,14.7],[13.1,14.5],[14.1,14.7],[15.1,14.6],
  [8.6,15.4],[9.5,15.5],[10.4,15.3],[11.3,15.5],[12.2,15.4],[13.1,15.5],[14.0,15.3],
  [9.4,16.2],[10.3,16.3],[11.2,16.1],[12.1,16.3],[13.0,16.2],
  [2.5,8.3],[3.4,9.9],[4.3,11.5],[5.3,13.1],[6.6,14.7],[8.2,16.3],[9.3,17.2],[10.2,17.0],[11.1,18.1],
  [19.0,24.2],[24.1,25.0],[28.1,24.6],[21.0,22.9],[22.7,21.5],[25.8,17.1],[27.2,19.1],[27.3,18.0],[35.4,18.5],
  [22.6,14.8],[17.8,12.1],[15.9,9.7],[13.6,7.5],[2.4,13.9],[4.1,14.4],[6.2,16.2],[11.3,20.2],[14.3,21.7],
  [15.3,21.4],[17.6,21.9],[17.2,22.3],[19.4,21.2],[12.0,21.0],[12.9,19.6],[13.8,20.4],[14.8,19.2],[15.9,20.5],
  [16.7,19.4],[17.7,20.8],[18.6,19.6],[19.8,20.1],[20.5,19.5],[21.6,20.3],[22.3,18.6],[7.9,17.3],[8.8,16.7],
  [10.0,17.6],[10.9,18.4],[11.8,17.2],[12.8,18.1],[13.7,17.4],[14.6,18.3],[15.5,17.1],[16.4,18.0],[17.3,16.8],
  [18.2,17.6],[19.1,16.5],[20.1,17.3],[21.0,16.1],[21.8,15.0],[13.9,16.1],[14.8,15.8],[15.9,16.3],[16.8,15.3],
  [17.8,14.9],[18.8,15.4],[19.8,14.7],[20.6,15.3],[15.6,14.2],[16.6,13.4],[17.6,13.9],[18.5,12.9],[19.5,13.6],
  [20.4,13.1],[16.1,12.1],[14.9,11.3],[15.8,10.9],[16.9,11.5],[18.0,10.8],[13.5,10.4],[14.4,9.6],[12.3,8.6],
  [13.1,9.2],[11.9,7.0],[10.8,6.2],[12.5,11.8],[1.9,11.2],[3.0,12.1],[3.3,10.6],[5.2,13.5],[4.6,12.0],
  [6.0,14.8],[1.3,8.0],[0.5,6.6],[0.9,5.0],[1.5,9.5],[2.2,9.9],[0.3,3.8],[9.4,4.6],[8.7,4.0],[7.9,3.4],
  [6.8,2.8],[10.2,5.5],[12.2,14.6],[11.3,15.1],[10.4,14.0]
];
const extraD = [
  [0.35,0.65],[0.9,0.7],[1.4,0.6],[1.9,0.7],[0.4,1.4],[0.9,1.5],[1.5,1.35],[2.1,1.5],[2.7,1.4],
  [0.35,2.2],[0.9,2.3],[1.4,2.15],[2.0,2.3],[2.6,2.2],[3.2,2.3],[3.8,2.2],
  [0.6,3.0],[1.1,3.1],[1.7,2.95],[2.3,3.1],[2.9,3.0],[3.6,3.1],[4.3,2.95],[5.0,3.1],
  [0.9,3.8],[1.5,3.9],[2.1,3.75],[2.8,3.9],[3.5,3.8],[4.2,3.9],[4.9,3.75],[5.7,3.9],[6.4,3.8],
  [1.3,4.6],[1.9,4.7],[2.6,4.55],[3.3,4.7],[4.0,4.6],[4.8,4.7],[5.5,4.55],[6.3,4.7],[7.0,4.6],[7.8,4.7],
  [1.7,5.4],[2.4,5.5],[3.1,5.35],[3.8,5.5],[4.6,5.4],[5.4,5.5],[6.2,5.35],[7.0,5.5],[7.8,5.4],[8.7,5.5],
  [2.1,6.2],[2.8,6.3],[3.6,6.15],[4.4,6.3],[5.2,6.2],[6.0,6.3],[6.8,6.15],[7.6,6.3],[8.5,6.2],[9.4,6.3],[10.3,6.1],
  [2.5,7.0],[3.2,7.1],[4.0,6.95],[4.8,7.1],[5.6,7.0],[6.4,7.1],[7.3,6.95],[8.1,7.1],[9.0,7.0],[9.9,7.1],[10.8,6.9],
  [2.9,7.8],[3.7,7.9],[4.5,7.75],[5.3,7.9],[6.1,7.8],[6.9,7.9],[7.8,7.75],[8.7,7.9],[9.6,7.8],[10.5,7.9],[11.5,7.7],
  [3.4,8.6],[4.2,8.7],[5.0,8.55],[5.8,8.7],[6.6,8.6],[7.5,8.7],[8.3,8.55],[9.2,8.7],[10.1,8.6],[11.1,8.7],[12.1,8.5],
  [3.9,9.4],[4.7,9.5],[5.5,9.35],[6.3,9.5],[7.1,9.4],[8.0,9.5],[8.9,9.35],[9.8,9.5],[10.7,9.4],[11.7,9.5],[12.7,9.3],
  [4.4,10.2],[5.2,10.3],[6.0,10.15],[6.8,10.3],[7.7,10.2],[8.6,10.3],[9.5,10.15],[10.4,10.3],[11.3,10.2],[12.3,10.3],[13.3,10.1],
  [4.9,11.0],[5.7,11.1],[6.6,10.95],[7.4,11.1],[8.3,11.0],[9.2,11.1],[10.1,10.95],[11.0,11.1],[11.9,11.0],[12.9,11.1],[14.0,10.9],
  [5.5,11.8],[6.3,11.9],[7.2,11.75],[8.0,11.9],[8.9,11.8],[9.8,11.9],[10.7,11.75],[11.6,11.9],[12.6,11.8],[13.6,11.9],[14.6,11.7],
  [6.1,12.6],[6.9,12.7],[7.8,12.55],[8.7,12.7],[9.5,12.6],[10.4,12.7],[11.3,12.55],[12.3,12.7],[13.2,12.6],[14.2,12.7],[15.3,12.5],
  [6.8,13.4],[7.6,13.5],[8.5,13.35],[9.4,13.5],[10.2,13.4],[11.1,13.5],[12.0,13.35],[13.0,13.5],[14.0,13.4],[15.0,13.5],
  [7.6,14.2],[8.4,14.3],[9.2,14.15],[10.1,14.3],[10.9,14.2],[11.8,14.3],[12.8,14.15],[13.7,14.3],[14.7,14.2],
  [8.3,15.0],[9.1,15.1],[10.0,14.95],[10.9,15.1],[11.8,15.0],[12.7,15.1],[13.6,14.95],
  [9.0,15.8],[9.9,15.9],[10.8,15.75],[11.7,15.9],[12.6,15.8],[10.0,16.8],[11.0,17.4],[12.0,16.9]
];
const cloudD = [
  [1.0,6.2],[1.6,7.2],[2.0,8.9],[2.8,10.4],[3.7,11.9],[4.6,13.2],[5.6,14.2],[6.9,15.7],[7.4,16.5],
  [8.9,17.9],[9.9,18.6],[11.9,19.0],[13.0,20.9],[14.1,19.2],[16.2,21.7],[18.9,22.9],[20.3,21.0],[21.1,18.9],
  [19.5,18.4],[18.1,18.8],[16.2,17.2],[15.0,16.9],[17.3,15.4],[18.3,16.2],[20.5,16.9],[21.9,16.6],[19.0,14.1],
  [16.3,14.8],[15.5,13.3],[17.1,12.8],[18.9,12.0],[20.0,12.4],[21.6,14.2],[16.8,10.2],[15.1,10.1],[14.2,8.5],
  [13.2,8.0],[12.6,7.2],[11.8,6.1],[10.7,5.3],[9.7,4.9],[8.9,4.9],[8.1,4.4],[7.2,3.7],[6.5,3.1],
  [5.7,2.5],[4.9,2.1],[4.2,1.8],[3.3,1.3],[2.8,0.8],[2.2,0.4]
];

const FONT = '"Liberation Sans", Arial, Helvetica, sans-serif';
Chart.defaults.font.family = FONT;
Chart.defaults.font.size = 16;
Chart.defaults.color = '#000';

const toXY = arr => arr.map(([x, y]) => ({ x, y }));

// box round the plot with outward major and minor ticks on all four sides
const frameTicks = {
  id: 'frameTicks',
  afterDraw(chart) {
    const { ctx, chartArea: a, scales } = chart;
    ctx.save();
    ctx.strokeStyle = '#000';
    ctx.lineWidth = 1;
    ctx.beginPath();
    for (let v = axisRange[0]; v <= axisRange[1]; v += minorStep) {
      const len = v % majorStep === 0 ? 6 : 3.5;
      const px = Math.round(scales.x.getPixelForValue(v)) + 0.5;
      const py = Math.round(scales.y.getPixelForValue(v)) + 0.5;
      ctx.moveTo(px, a.bottom); ctx.lineTo(px, a.bottom + len);
      ctx.moveTo(px, a.top); ctx.lineTo(px, a.top - len);
      ctx.moveTo(a.left, py); ctx.lineTo(a.left - len, py);
      ctx.moveTo(a.right, py); ctx.lineTo(a.right + len, py);
    }
    ctx.stroke();
    ctx.lineWidth = 1.2;
    ctx.strokeRect(a.left, a.top, a.right - a.left, a.bottom - a.top);
    ctx.restore();
  }
};

// regression statistics text
const statsText = {
  id: 'statsText',
  afterDatasetsDraw(chart, args, opts) {
    const { ctx, chartArea: a } = chart;
    ctx.save();
    ctx.font = '16px ' + FONT;
    ctx.fillStyle = '#000';
    ctx.textBaseline = 'middle';
    ctx.textAlign = 'left';
    opts.lines.forEach((t, i) => ctx.fillText(t, a.left + 164, a.top + 190 + i * 17.3));
    ctx.restore();
  }
};

function makePanel(id, points, fit, stats, showXTitle, padRight) {
  const canvas = document.getElementById(id);
  const xHeight = showXTitle ? 54 : 40;
  new Chart(canvas, {
    type: 'scatter',
    data: {
      datasets: [
        {
          type: 'line', data: toXY(fit), borderColor: '#ff0000', borderWidth: 2,
          pointRadius: 0, fill: false, order: 1
        },
        {
          type: 'line', data: toXY(oneToOne), borderColor: '#000', borderWidth: 1.5,
          borderDash: [9, 5], pointRadius: 0, fill: false, order: 2
        },
        {
          data: toXY(points), backgroundColor: '#000', borderWidth: 0,
          pointRadius: 2.7, clip: false, order: 3
        }
      ]
    },
    options: {
      responsive: false,
      animation: false,
      layout: { padding: { top: 11, right: padRight, left: 0, bottom: 0 } },
      plugins: {
        legend: { display: false },
        tooltip: { enabled: false },
        statsText: { lines: stats }
      },
      scales: {
        x: {
          type: 'linear', position: 'bottom', min: axisRange[0], max: axisRange[1],
          ticks: { stepSize: majorStep, padding: 3, color: '#000', maxRotation: 0 },
          grid: { drawOnChartArea: false, drawTicks: true, tickLength: 6, tickColor: '#000' },
          border: { display: true, color: '#000', width: 1 },
          title: {
            display: showXTitle, text: 'Observation (mg m\u207b\u00b2 h\u207b\u00b9)',
            color: '#000', font: { size: 15 }, padding: { top: 0, bottom: 3 }
          },
          afterFit: s => { s.height = xHeight; }
        },
        y: {
          type: 'linear', position: 'left', min: axisRange[0], max: axisRange[1],
          ticks: { stepSize: majorStep, padding: 4, color: '#000' },
          grid: { drawOnChartArea: false, drawTicks: true, tickLength: 6, tickColor: '#000' },
          border: { display: true, color: '#000', width: 1 },
          title: {
            display: true, text: 'Simulation (mg m\u207b\u00b2 h\u207b\u00b9)',
            color: '#000', font: { size: 15 }, padding: { top: 3, bottom: 0 }
          },
          afterFit: s => { s.width = 56; }
        }
      }
    },
    plugins: [frameTicks, statsText]
  });
}

makePanel('panelA', pointsA.concat(extraA, cloudA), fitA, statsA, false, 14);
makePanel('panelB', pointsB.concat(extraB, cloudB), fitB, statsB, false, 10);
makePanel('panelC', pointsC.concat(extraC, cloudC), fitC, statsC, true, 14);
makePanel('panelD', pointsD.concat(extraD, cloudD), fitD, statsD, true, 10);
</script>
</body>
</html>
